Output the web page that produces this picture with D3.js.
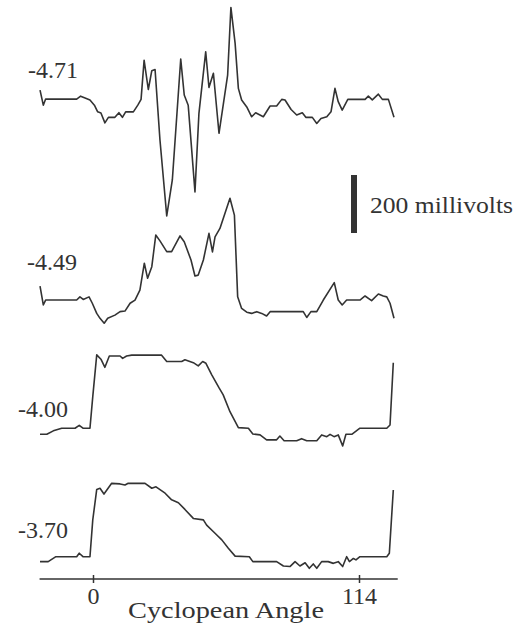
<!DOCTYPE html>
<html>
<head>
<meta charset="utf-8">
<script src="https://cdn.jsdelivr.net/npm/d3@7"></script>
<style>
  body { margin: 0; background: #fff; }
  svg text { font-family: "Liberation Serif", "DejaVu Serif", serif; fill: #333; }
</style>
</head>
<body>
<div id="chart"></div>
<script>
// trace names (log contrast) and their vertical offsets in millivolts
var traceNames = ["-4.71", "-4.49", "-4.00", "-3.70"];
var traceOffsets = [1578, 885, 443, 0];

// each trace: cyclopean angle and response (mV, relative to its resting level)
var angle471 = [-22.7,-21.3,-20.3,-7.0,-5.3,-3.4,-1.3,0.6,2.0,3.4,5.1,6.6,9.4,11.1,12.6,14.0,17.3,19.2,20.6,21.9,23.7,25.2,26.6,28.7,31.6,34.0,37.6,39.1,40.8,43.7,45.4,48.3,49.7,51.6,54.0,57.7,59.1,60.9,62.3,63.7,65.9,68.0,69.7,73.0,75.9,78.7,80.9,82.3,84.9,87.3,89.7,91.2,94.0,95.9,97.7,100.2,102.0,103.7,105.1,106.8,109.2,116.6,118.0,119.7,122.3,124.0,126.6,129.0];
var mv471 = [31,-21,0,0,10,4,-3,-21,-44,-48,-82,-63,-63,-47,-63,-44,-44,-21,-1,134,33,98,102,-141,-403,-279,138,14,-21,-320,-49,163,40,89,-118,83,316,193,37,-3,-27,-61,-47,-61,-24,-24,-1,-3,-36,-55,-47,-63,-63,-84,-67,-61,-44,37,-9,-38,-1,-1,10,-3,17,-1,-1,-63];

var angle449 = [-22.7,-21.3,-20.3,-7.0,-5.6,-4.2,-1.7,-0.3,1.6,3.0,4.8,6.3,9.4,11.6,13.7,15.9,18.0,20.1,22.0,23.4,25.2,26.9,28.7,31.6,33.7,37.3,39.1,42.0,43.7,45.1,47.3,49.7,51.2,52.3,54.4,58.7,60.6,62.0,63.7,65.9,68.0,70.2,72.3,74.4,75.9,90.1,91.6,93.4,95.9,98.7,103.4,105.1,106.8,108.7,114.4,116.6,119.4,122.3,124.4,125.9,127.3,129.0];
var mv449 = [48,-17,0,0,11,2,11,-11,-46,-63,-80,-63,-52,-40,-38,-11,0,34,127,75,115,224,204,167,167,221,201,138,83,86,138,230,166,218,247,351,293,11,-29,-42,-46,-40,-46,-55,-40,-40,-60,-40,-40,0,60,0,-17,0,0,14,-2,21,14,11,-11,-63];

var angle400 = [-22.7,-19.8,-17.0,-13.4,-7.7,-5.9,-4.3,-1.3,-0.1,1.6,3.4,5.1,7.0,11.6,12.7,14.4,16.6,29.4,31.6,38.0,39.4,43.0,45.1,47.0,48.4,50.9,54.1,55.8,58.7,62.3,66.6,68.5,71.6,74.4,78.7,80.1,81.9,87.3,89.4,91.6,95.9,98.0,100.2,101.6,103.3,105.1,107.0,108.4,110.9,114.4,125.9,127.3,128.7];
var mv400 = [-21,-21,-9,0,0,10,0,0,109,253,238,210,249,249,241,249,252,252,230,230,236,226,215,230,224,184,138,115,57,2,0,-20,-23,-40,-40,-27,-43,-43,-36,-43,-43,-23,-29,-21,-29,-23,-61,-21,-21,0,0,11,226];

var angle370 = [-22.7,-19.2,-15.9,-7.0,-5.9,-4.3,-1.3,-0.1,1.6,3.0,4.7,8.0,11.6,13.7,15.1,22.3,25.2,27.0,30.9,33.7,36.6,39.4,43.0,47.3,48.7,52.3,55.2,58.0,60.9,67.0,68.5,78.7,81.6,84.4,86.6,88.7,90.9,92.7,94.4,95.9,98.0,100.8,103.0,105.1,107.0,108.7,109.9,111.6,112.7,114.4,125.9,127.0,128.7];
var mv370 = [-17,-17,0,0,12,0,0,127,232,236,216,253,251,247,253,253,236,241,219,196,186,163,132,127,109,81,58,29,2,0,-17,-17,-32,-34,-17,-32,-21,-40,-25,-40,-17,-17,-23,-17,-34,0,-17,-6,-11,0,0,12,230];

var tickValues = [0, 114];
var axisTitle = "Cyclopean Angle";
var scaleBarMv = 200;
var scaleBarLabel = "200 millivolts";

var traces = [
  d3.zip(angle471, mv471),
  d3.zip(angle449, mv449),
  d3.zip(angle400, mv400),
  d3.zip(angle370, mv370)
];

const w = 526;
const h = 628;
const axisY = 579;

const svg = d3.select("#chart").append("svg")
  .attr("width", w)
  .attr("height", h);

// x: cyclopean angle, y: millivolts (stacked)
const xScale = d3.scaleLinear().domain([0, 114]).range([93, 359]);
const yScale = d3.scaleLinear().domain([0, 1000]).range([556.7, 266.7]);

const line = d3.line()
  .x(d => xScale(d[0]))
  .y(d => yScale(d[1] + d[2]));

traces.forEach(function(tr, i) {
  svg.append("path")
     .datum(tr.map(d => [d[0], d[1], traceOffsets[i]]))
     .attr("d", line)
     .attr("fill", "none")
     .attr("stroke", "#333")
     .attr("stroke-width", 1.6)
     .attr("stroke-linejoin", "round");
});

// trace labels
var labelX = [78, 77, 68, 68];
var labelY = [78, 270, 417, 538];
svg.selectAll(".tlabel")
   .data(traceNames)
   .enter()
   .append("text")
   .attr("class", "tlabel")
   .attr("x", (d, i) => labelX[i])
   .attr("y", (d, i) => labelY[i])
   .attr("text-anchor", "end")
   .attr("font-size", 24)
   .text(d => d);

// scale bar
svg.append("rect")
   .attr("x", 351)
   .attr("y", 175)
   .attr("width", 6)
   .attr("height", yScale(0) - yScale(scaleBarMv))
   .attr("fill", "#333");
svg.append("text")
   .attr("x", 370)
   .attr("y", 213)
   .attr("font-size", 24)
   .attr("textLength", 143)
   .attr("lengthAdjust", "spacingAndGlyphs")
   .text(scaleBarLabel);

// x axis
const xAxis = d3.axisBottom(xScale)
  .tickValues(tickValues)
  .tickSize(4)
  .tickPadding(6);

const gx = svg.append("g")
  .attr("transform", "translate(0," + axisY + ")")
  .call(xAxis);
gx.select(".domain").remove();
gx.selectAll(".tick line")
  .attr("y1", -4)
  .attr("stroke", "#333")
  .attr("stroke-width", 1.5);
gx.selectAll(".tick text")
  .attr("font-size", 24)
  .attr("font-family", "Liberation Serif, serif")
  .attr("fill", "#333")
  .attr("dy", null)
  .attr("y", 25);
gx.insert("line", ":first-child")
  .attr("x1", xScale(-22.9))
  .attr("x2", xScale(130.6))
  .attr("stroke", "#333")
  .attr("stroke-width", 1.5);

svg.append("text")
   .attr("x", (xScale(0) + xScale(114)) / 2)
   .attr("y", 618)
   .attr("text-anchor", "middle")
   .attr("font-size", 24)
   .attr("textLength", 196)
   .attr("lengthAdjust", "spacingAndGlyphs")
   .text(axisTitle);
</script>
</body>
</html>
